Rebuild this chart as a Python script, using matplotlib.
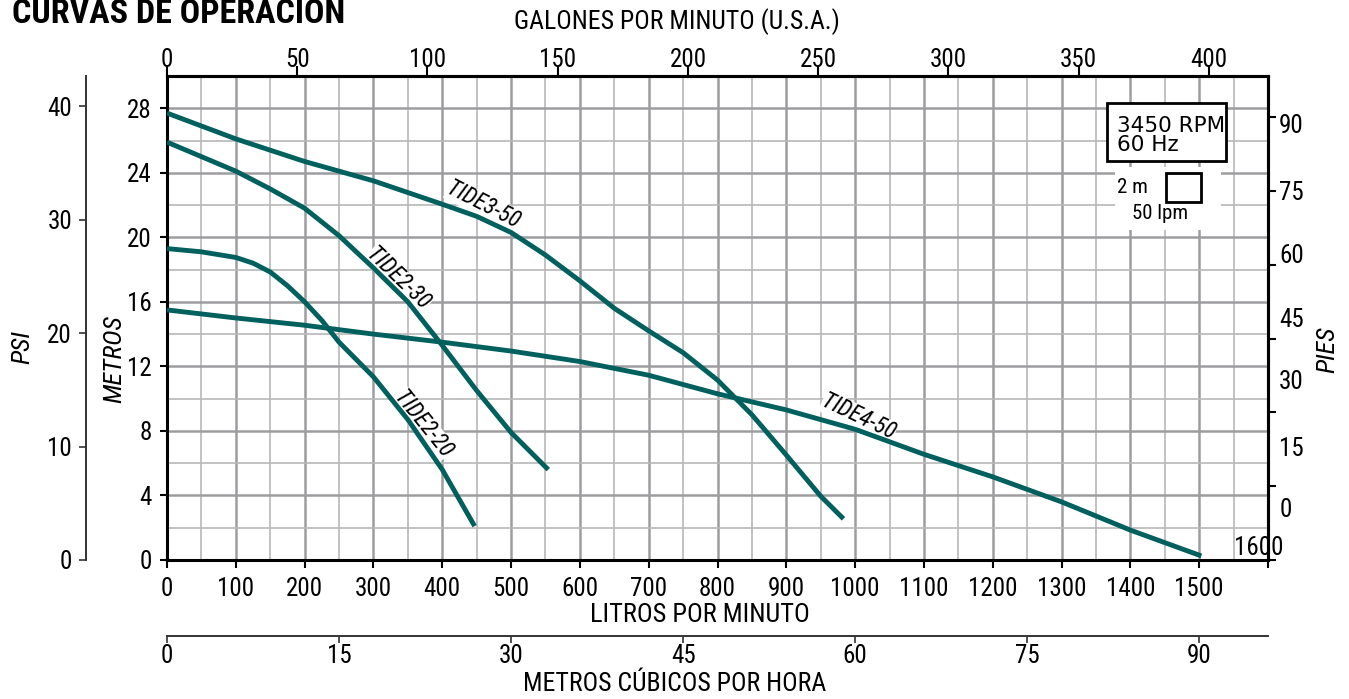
import matplotlib
matplotlib.use("Agg")
import matplotlib.pyplot as plt
from matplotlib import font_manager
from matplotlib.patches import Rectangle

# caudal en litros por minuto / altura en metros
tide2_20_lpm = [0, 50, 100, 125, 150, 175, 200, 225, 250, 300, 350, 400, 447]
tide2_20_m = [19.3, 19.1, 18.75, 18.4, 17.85, 17.0, 16.0, 14.85, 13.5, 11.35, 8.7, 5.6, 2.1]

tide2_30_lpm = [0, 50, 100, 150, 200, 250, 300, 350, 400, 450, 500, 554]
tide2_30_m = [25.9, 25.0, 24.1, 23.0, 21.8, 20.1, 18.1, 16.0, 13.3, 10.5, 7.9, 5.6]

tide3_50_lpm = [0, 100, 200, 300, 400, 450, 500, 550, 600, 650, 700, 750, 800, 850, 900, 950, 983]
tide3_50_m = [27.7, 26.1, 24.7, 23.5, 22.05, 21.3, 20.3, 18.9, 17.3, 15.6, 14.2, 12.85, 11.15, 9.0, 6.5, 3.95, 2.55]

tide4_50_lpm = [0, 100, 200, 300, 400, 500, 600, 700, 800, 900, 1000, 1100, 1200, 1300, 1400, 1503]
tide4_50_m = [15.5, 15.0, 14.55, 14.0, 13.5, 12.95, 12.3, 11.45, 10.3, 9.3, 8.1, 6.55, 5.15, 3.6, 1.85, 0.25]

lpm_ticks = list(range(0, 1700, 100))
lpm_labels = [str(v) for v in lpm_ticks[:-1]] + [""]
metros_ticks = list(range(0, 29, 4))
gpm_ticks = list(range(0, 401, 50))
m3h_ticks = list(range(0, 91, 15))
psi_ticks = [0, 10, 20, 30, 40]
pies_ticks = list(range(0, 91, 15))
# the reference prints the PIES numbers slightly off their ticks
pies_label_pos = [10.6, 23.0, 36.6, 49.4, 62.4, 75.2, 88.8]

TEAL = "#00605e"

names = {f.name for f in font_manager.fontManager.ttflist}
cond = next((n for n in ["Roboto Condensed", "Liberation Sans Narrow",
                         "DejaVu Sans Condensed"] if n in names), "DejaVu Sans")
plt.rcParams["font.family"] = [cond, "DejaVu Sans"]

fig = plt.figure(figsize=(13.49, 6.99), dpi=100)
ax = fig.add_axes([0.1238, 0.1989, 0.8162, 0.6924])
ax.set_xlim(0, 1600)
ax.set_ylim(0, 30)

# grid
ax.set_xticks(lpm_ticks)
ax.set_xticklabels(lpm_labels)
ax.set_xticks(range(50, 1600, 100), minor=True)
ax.set_yticks(metros_ticks)
ax.set_yticks(range(2, 30, 4), minor=True)
ax.set_axisbelow(True)
ax.grid(which="major", color="#9d9da0", lw=1.8)
ax.grid(which="minor", color="#b8b8b8", lw=1.2)
ax.tick_params(which="minor", length=0)
ax.tick_params(axis="x", which="major", direction="out", length=6, width=1.5, pad=6, labelsize=18)
ax.tick_params(axis="y", which="major", direction="out", length=5, width=1.5, pad=6, labelsize=18)
for s in ax.spines.values():
    s.set_linewidth(2.2)

# curves
for xs, ys in [(tide2_20_lpm, tide2_20_m), (tide2_30_lpm, tide2_30_m),
               (tide3_50_lpm, tide3_50_m), (tide4_50_lpm, tide4_50_m)]:
    ax.plot(xs, ys, color=TEAL, lw=3.5, solid_capstyle="butt", zorder=3)

lab = dict(fontsize=16.5, style="italic", ha="center", va="center", rotation_mode="anchor",
           bbox=dict(facecolor="white", edgecolor="none", pad=0.1), zorder=2.5)
ax.text(460, 22.0, "TIDE3-50", rotation=-27, **lab)
ax.text(336, 17.4, "TIDE2-30", rotation=-44, **lab)
ax.text(372, 8.4, "TIDE2-20", rotation=-51, **lab)
ax.text(1005, 8.85, "TIDE4-50", rotation=-25.5, **lab)
ax.text(1586, 0.75, "1600", fontsize=18, ha="center", va="center")

# RPM box and scale square
ax.add_patch(Rectangle((1366, 24.7), 173, 3.6, facecolor="white", edgecolor="black", lw=2, zorder=5))
ax.text(1381, 26.3, "3450 RPM\n60 Hz", family="DejaVu Sans", fontsize=15.5,
        ha="left", va="center", linespacing=0.95, zorder=6)
ax.add_patch(Rectangle((1378, 20.45), 153, 3.9, facecolor="white", edgecolor="none", zorder=2))
ax.add_patch(Rectangle((1452, 22.2), 50, 1.8, facecolor="none", edgecolor="black", lw=2, zorder=5))
ax.text(1403, 23.1, "2 m", fontsize=15, ha="center", va="center", zorder=6)
ax.text(1443, 21.45, "50 lpm", fontsize=15, ha="center", va="center", zorder=6)

# galones por minuto (arriba)
top = ax.secondary_xaxis("top", functions=(lambda x: x / 3.785, lambda g: g * 3.785))
top.set_xticks(gpm_ticks)
top.tick_params(direction="out", length=7, width=1.5, pad=-4, labelsize=18)
top.spines["top"].set_linewidth(2.2)

# metros cubicos por hora (abajo)
m3h = ax.secondary_xaxis(-0.157, functions=(lambda x: x * 0.06, lambda q: q / 0.06))
m3h.set_xticks(m3h_ticks)
m3h.tick_params(direction="out", length=5, width=1.2, pad=1, labelsize=18, color="#333333")
m3h.spines["bottom"].set_linewidth(1.4)
m3h.spines["bottom"].set_color("#333333")

# PSI (izquierda)
psi = ax.secondary_yaxis(-0.0736, functions=(lambda m: m / 0.70307, lambda p: p * 0.70307))
psi.set_yticks(psi_ticks)
psi.tick_params(direction="out", length=5, width=1.2, pad=5, labelsize=18, color="#333333")
psi.spines["left"].set_linewidth(1.4)
psi.spines["left"].set_color("#333333")

# PIES (derecha)
pies = ax.secondary_yaxis("right", functions=(lambda m: m * 3.28084, lambda f: f / 3.28084))
pies.set_yticks(pies_ticks)
pies.set_yticklabels([])
pies.tick_params(direction="out", length=6, width=1.5)
pies.spines["right"].set_linewidth(2.2)
pies_lab = ax.secondary_yaxis("right", functions=(lambda m: m * 3.28084, lambda f: f / 3.28084))
pies_lab.set_yticks(pies_label_pos)
pies_lab.set_yticklabels([str(v) for v in pies_ticks])
pies_lab.tick_params(length=0, pad=8, labelsize=18)
pies_lab.spines["right"].set_visible(False)

# axis titles
ax.text(0.484, -0.114, "LITROS POR MINUTO", transform=ax.transAxes, fontsize=19, ha="center", va="center")
ax.text(0.463, 1.112, "GALONES POR MINUTO (U.S.A.)", transform=ax.transAxes, fontsize=18.5, ha="center", va="center")
ax.text(0.461, -0.256, "METROS CÚBICOS POR HORA", transform=ax.transAxes, fontsize=18.5, ha="center", va="center")
ax.text(-0.048, 0.415, "METROS", transform=ax.transAxes, fontsize=19, style="italic", rotation=90, ha="center", va="center")
ax.text(-0.131, 0.44, "PSI", transform=ax.transAxes, fontsize=19, style="italic", rotation=90, ha="center", va="center")
ax.text(1.054, 0.434, "PIES", transform=ax.transAxes, fontsize=19, style="italic", rotation=90, ha="center", va="center")

fig.text(12 / 1349, 1 - 23 / 699, "CURVAS DE OPERACION", fontsize=24.5, weight="bold", ha="left", va="baseline")

fig.savefig("out.png", dpi=100)
